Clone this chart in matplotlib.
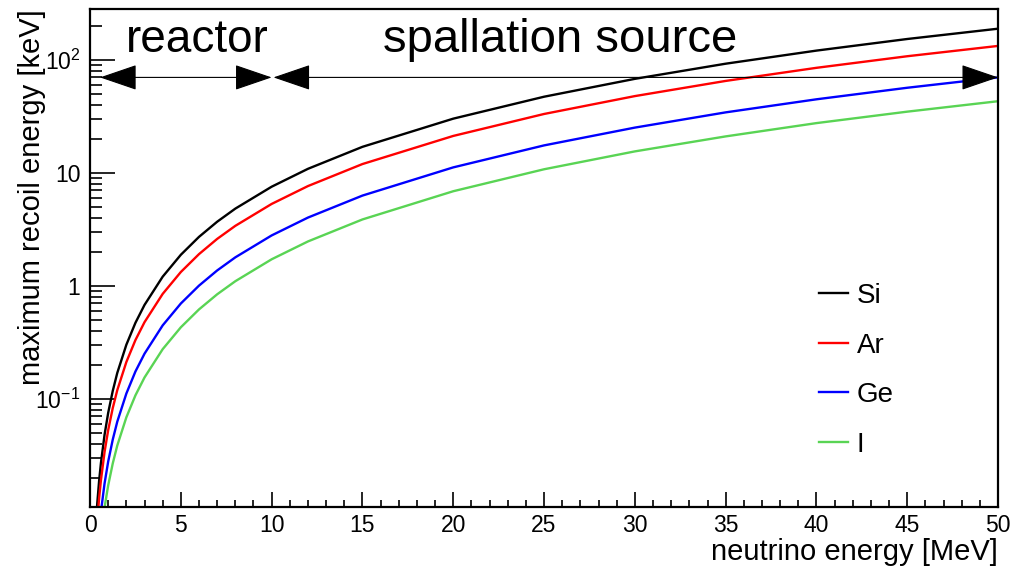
import numpy as np
import matplotlib
matplotlib.use("Agg")
import matplotlib.pyplot as plt
from matplotlib.patches import ArrowStyle
from matplotlib.ticker import MultipleLocator, LogLocator, NullFormatter

plt.rcParams['font.family'] = ['Liberation Sans', 'DejaVu Sans']
plt.rcParams['mathtext.fontset'] = 'custom'
plt.rcParams['mathtext.rm'] = 'Liberation Sans'
plt.rcParams['mathtext.default'] = 'regular'

# neutrino energy [MeV] and max recoil energy [keV]
e_nu = [0.35, 0.4, 0.5, 0.6, 0.8, 1, 1.25, 1.5, 2, 2.5, 3, 4, 5, 6, 7, 8,
        10, 12, 15, 20, 25, 30, 35, 40, 45, 50]
t_si = [0.0092, 0.0120, 0.01875, 0.0270, 0.048, 0.075, 0.117, 0.169, 0.300,
        0.469, 0.675, 1.20, 1.875, 2.70, 3.675, 4.80, 7.50, 10.8, 16.9, 30.0,
        46.9, 67.5, 91.9, 120, 152, 187.5]
t_ar = [0.00647, 0.00845, 0.0132, 0.0190, 0.0338, 0.0528, 0.0825, 0.119, 0.211,
        0.330, 0.475, 0.845, 1.32, 1.90, 2.59, 3.38, 5.28, 7.60, 11.9, 21.1,
        33.0, 47.5, 64.7, 84.5, 107, 132]
t_ge = [0.0034, 0.00445, 0.00695, 0.0100, 0.0178, 0.0278, 0.0434, 0.0626, 0.111,
        0.174, 0.250, 0.445, 0.695, 1.00, 1.362, 1.779, 2.78, 4.00, 6.26, 11.12,
        17.4, 25.0, 34.1, 44.5, 56.3, 69.5]
t_i = [0.0021, 0.00274, 0.00428, 0.00616, 0.0109, 0.0171, 0.0267, 0.0385, 0.0684,
       0.107, 0.154, 0.274, 0.428, 0.616, 0.838, 1.094, 1.71, 2.46, 3.85, 6.84,
       10.7, 15.4, 20.9, 27.4, 34.6, 42.8]

names = ['Si', 'Ar', 'Ge', 'I']
colors = ['black', '#ff0000', '#0000ff', '#59d454']

# ranges for the arrows
arrow_y = 69.5
reactor = (0.55, 10.0)
spallation = (10.1, 50.0)

fig = plt.figure(figsize=(10.22, 5.7), dpi=100)
ax = fig.add_axes([0.0881, 0.1105, 0.8885, 0.8737])

for t, name, c in zip([t_si, t_ar, t_ge, t_i], names, colors):
    ax.plot(e_nu, t, color=c, lw=1.7, label=name)

ax.set_yscale('log')
ax.set_xlim(0, 50)
ax.set_ylim(0.011, 280)

style = ArrowStyle('<|-|>', head_length=2.4, head_width=0.82)
for x0, x1 in [reactor, spallation]:
    ax.annotate('', xy=(x1, arrow_y), xytext=(x0, arrow_y),
                arrowprops=dict(arrowstyle=style, mutation_scale=10, lw=0.8,
                                color='black', shrinkA=0, shrinkB=0))

ax.text(5.9, 117, 'reactor', fontsize=33, ha='center', va='baseline')
ax.text(25.9, 117, 'spallation source', fontsize=34, ha='center', va='baseline')

# ticks, ROOT style
ax.xaxis.set_major_locator(MultipleLocator(5))
ax.xaxis.set_minor_locator(MultipleLocator(1))
ax.set_yticks([0.1, 1, 10, 100], labels=[r'$10^{-1}$', '1', '10', r'$10^{2}$'])
ax.yaxis.set_minor_locator(LogLocator(base=10, subs=np.arange(2, 10)))
ax.yaxis.set_minor_formatter(NullFormatter())
ax.tick_params(axis='both', which='both', direction='in', labelsize=16.5,
               width=1.2, top=False, right=False)
ax.tick_params(axis='x', which='major', length=10.8, pad=5)
ax.tick_params(axis='x', which='minor', length=5.4)
ax.tick_params(axis='y', which='major', length=18, pad=7)
ax.tick_params(axis='y', which='minor', length=8.6)
for sp in ax.spines.values():
    sp.set_linewidth(1.6)

ax.set_xlabel('neutrino energy [MeV]', fontsize=21, loc='right', labelpad=1)
ax.set_ylabel('maximum recoil energy [keV]', fontsize=21, loc='top', labelpad=-8)

ax.legend(loc='upper left', bbox_to_anchor=(0.803, 0.45), frameon=False,
          fontsize=20, handlelength=1.05, handletextpad=0.3, labelspacing=0.85,
          borderpad=0, borderaxespad=0)

fig.savefig('out.png', dpi=100)
